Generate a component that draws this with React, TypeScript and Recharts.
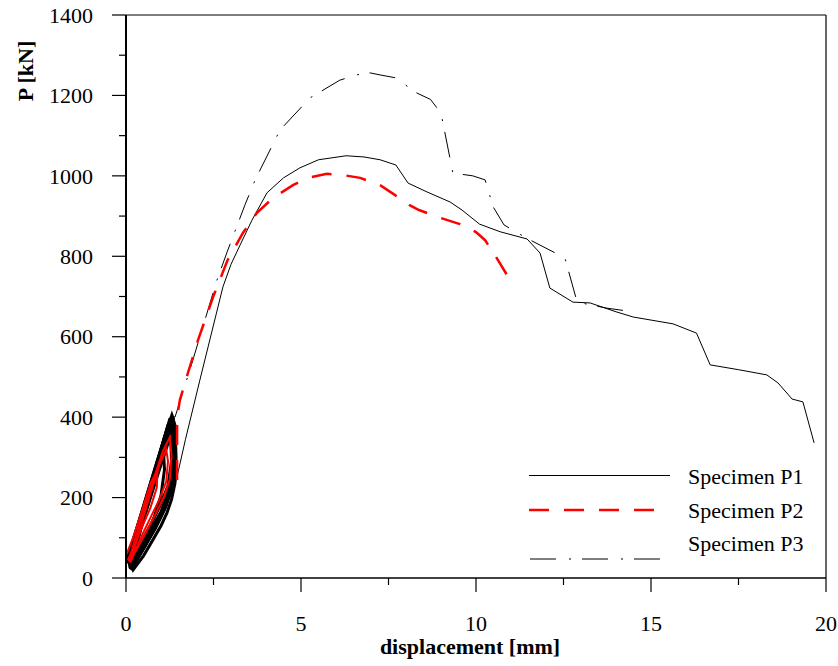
import React from 'react';
import { LineChart, Line, XAxis, YAxis, ReferenceLine } from 'recharts';

type Pt = { x: number; y: number };
const pts = (a: number[][]): Pt[] => a.map(([x, y]) => ({ x, y }));

// tick values
const xTicks = [0, 2.5, 5, 7.5, 10, 12.5, 15, 17.5, 20];
const yTicks = [0, 100, 200, 300, 400, 500, 600, 700, 800, 900, 1000, 1100, 1200, 1300, 1400];

// cyclic loops (black: P1 / P3, red: P2)
const p1CycleA = pts([[0.03, 45], [0.4, 150], [0.8, 265], [1.1, 350], [1.31, 405], [1.4, 380], [1.43, 300], [1.4, 236], [1.3, 195], [1.17, 162], [1.0, 130], [0.77, 95], [0.5, 55], [0.2, 20], [0.03, 45]]);
const p1CycleB = pts([[0.08, 40], [0.4, 138], [0.8, 250], [1.1, 335], [1.3, 390], [1.38, 360], [1.38, 280], [1.3, 225], [1.15, 180], [0.95, 145], [0.7, 110], [0.45, 72], [0.2, 35], [0.08, 40]]);
const p1CycleC = pts([[0.1, 35], [0.45, 140], [0.85, 255], [1.15, 340], [1.28, 370], [1.35, 330], [1.33, 260], [1.2, 210], [1.0, 165], [0.75, 125], [0.5, 88], [0.25, 50], [0.1, 35]]);
const p1CycleD = pts([[0.12, 30], [0.5, 145], [0.9, 255], [1.2, 335], [1.28, 345], [1.3, 290], [1.2, 230], [1.0, 185], [0.75, 140], [0.5, 100], [0.25, 55], [0.12, 30]]);
const p3CycleA = pts([[0.05, 50], [0.35, 135], [0.7, 235], [1.0, 320], [1.25, 395], [1.35, 398], [1.4, 340], [1.4, 255], [1.25, 205], [1.05, 165], [0.8, 120], [0.55, 80], [0.3, 45], [0.05, 50]]);
const p3CycleB = pts([[0.1, 25], [0.35, 110], [0.65, 210], [0.95, 305], [1.2, 380], [1.32, 400], [1.4, 370], [1.4, 290], [1.3, 225], [1.1, 170], [0.85, 125], [0.55, 80], [0.3, 45], [0.15, 25], [0.1, 25]]);
const p3CycleC = pts([[0.12, 22], [0.4, 115], [0.7, 205], [1.0, 295], [1.22, 360], [1.3, 380], [1.36, 340], [1.35, 260], [1.2, 205], [0.95, 150], [0.7, 105], [0.45, 65], [0.25, 35], [0.12, 22]]);
const p3CycleD = pts([[0.1, 30], [0.3, 90], [0.55, 165], [0.8, 240], [1.0, 290], [1.08, 300], [1.1, 270], [1.0, 205], [0.8, 150], [0.55, 100], [0.3, 55], [0.12, 30]]);
const p2CycleA = pts([[0.08, 42], [0.4, 140], [0.75, 235], [1.05, 315], [1.25, 350], [1.3, 305], [1.25, 245], [1.1, 205], [0.85, 160], [0.6, 118], [0.35, 78], [0.15, 48], [0.08, 42]]);
const p2CycleB = pts([[0.12, 38], [0.4, 125], [0.7, 210], [0.95, 280], [1.15, 320], [1.2, 290], [1.15, 240], [0.95, 195], [0.7, 150], [0.45, 105], [0.25, 65], [0.12, 38]]);
const p2CycleC = pts([[0.02, 60], [0.2, 100], [0.45, 165], [0.7, 235], [0.9, 270], [0.88, 225], [0.7, 175], [0.45, 125], [0.25, 80], [0.05, 45]]);

// monotonic envelopes after cycling
const p1Curve = pts([[1.42, 240], [1.5, 268], [1.7, 345], [2.11, 492], [2.4, 594], [2.77, 724], [3.0, 780], [3.26, 828], [3.6, 890], [4.03, 958], [4.5, 995], [4.97, 1020], [5.5, 1040], [6.29, 1050], [6.8, 1047], [7.26, 1040], [7.71, 1027], [8.06, 982], [8.6, 960], [9.26, 935], [9.6, 915], [10.1, 880], [10.69, 861], [11.46, 843], [11.83, 808], [12.11, 721], [12.77, 686], [13.26, 684], [14.0, 662], [14.49, 649], [15.63, 632], [16.3, 609], [16.69, 530], [17.5, 518], [18.31, 505], [18.63, 485], [19.03, 445], [19.34, 438], [19.66, 336]]);
const p2Curve = pts([[1.46, 244], [1.46, 400], [1.54, 443], [1.77, 510], [2.06, 592], [2.49, 699], [2.9, 790], [3.34, 858], [3.74, 908], [4.2, 945], [4.77, 977], [5.2, 995], [5.74, 1005], [6.2, 1002], [6.69, 995], [7.26, 977], [7.69, 952], [8.09, 928], [8.37, 915], [9.0, 895], [9.54, 880], [10.0, 860], [10.26, 840], [10.54, 803], [10.91, 750], [11.0, 742]]);
const p3Curve = pts([[1.4, 400], [1.6, 455], [1.91, 542], [2.6, 741], [2.89, 811], [3.4, 928], [3.69, 990], [4.4, 1114], [5.26, 1194], [6.11, 1238], [6.86, 1258], [7.26, 1251], [7.69, 1244], [8.31, 1206], [8.7, 1190], [9.0, 1156], [9.34, 1007], [9.91, 1000], [10.26, 990], [10.49, 923], [10.8, 878], [11.49, 843], [12.54, 796], [12.89, 686], [13.74, 671], [14.49, 662]]);

const seriesNames = ['Specimen P1', 'Specimen P2', 'Specimen P3'];

const FONT = '"Liberation Serif", "Times New Roman", serif';
const FS = 22;

const YTick = (props: any) => {
  const { x, y, payload } = props;
  const v = payload.value as number;
  const major = v % 200 === 0;
  return (
    <g>
      <line x1={x} x2={x - (major ? 14 : 7)} y1={y} y2={y} stroke="#000" strokeWidth={1.2} />
      {major && (
        <text x={x - 33} y={y} dy="0.35em" textAnchor="end" fontSize={FS} fontFamily={FONT} fill="#000">
          {v}
        </text>
      )}
    </g>
  );
};

const XTick = (props: any) => {
  const { x, y, payload } = props;
  const v = payload.value as number;
  const major = v % 5 === 0;
  return (
    <g>
      <line x1={x} x2={x} y1={y} y2={y + (major ? 14 : 7)} stroke="#000" strokeWidth={1.2} />
      {major && (
        <text x={x} y={y + 45} dy="0.35em" textAnchor="middle" fontSize={FS} fontFamily={FONT} fill="#000">
          {v}
        </text>
      )}
    </g>
  );
};

const LegendBox = () => (
  <svg width={838} height={666} style={{ position: 'absolute', left: 0, top: 0, pointerEvents: 'none' }}>
    <line x1={529} x2={670} y1={475.5} y2={475.5} stroke="#000" strokeWidth={1} />
    <text x={688} y={484} fontSize={FS} fontFamily={FONT} fill="#000">{seriesNames[0]}</text>
    <line x1={529} x2={655} y1={510} y2={510} stroke="#ff0000" strokeWidth={2.5} strokeDasharray="20 15" />
    <text x={688} y={518} fontSize={FS} fontFamily={FONT} fill="#000">{seriesNames[1]}</text>
    <line x1={530} x2={660} y1={559} y2={559} stroke="#000" strokeWidth={1} strokeDasharray="26 13 2 11" />
    <text x={688} y={551} fontSize={FS} fontFamily={FONT} fill="#000">{seriesNames[2]}</text>
  </svg>
);

export default function App() {
  const blackCycles = [p1CycleA, p1CycleB, p1CycleC, p1CycleD, p3CycleA, p3CycleB, p3CycleC, p3CycleD];
  const redCycles = [p2CycleA, p2CycleB, p2CycleC];
  return (
    <div style={{ position: 'absolute', left: 0, top: 0, width: 838, height: 666, background: '#fff' }}>
      <LineChart width={838} height={666} margin={{ top: 15, right: 12, left: 0, bottom: 0 }}>
        <XAxis
          type="number"
          dataKey="x"
          domain={[0, 20]}
          ticks={xTicks}
          interval={0}
          height={88}
          tickSize={0}
          tickMargin={0}
          tick={<XTick />}
          axisLine={{ stroke: '#000', strokeWidth: 1.5 }}
          allowDataOverflow
          label={{
            content: (p: any) => {
              const vb = p.viewBox;
              return (
                <text x={vb.x + vb.width / 2 - 6} y={vb.y + 68} dy="0.35em" textAnchor="middle" fontSize={FS} fontWeight="bold" fontFamily={FONT} fill="#000">
                  displacement [mm]
                </text>
              );
            },
          }}
        />
        <YAxis
          type="number"
          domain={[0, 1400]}
          ticks={yTicks}
          interval={0}
          width={126}
          tickSize={0}
          tickMargin={0}
          tick={<YTick />}
          axisLine={{ stroke: '#000', strokeWidth: 2 }}
          allowDataOverflow
          label={{
            content: (p: any) => {
              const vb = p.viewBox;
              const cx = vb.x + 25;
              const cy = vb.y + 56;
              return (
                <text transform={`translate(${cx},${cy}) rotate(-90)`} dy="0.35em" textAnchor="middle" fontSize={FS} fontWeight="bold" fontFamily={FONT} fill="#000">
                  P [kN]
                </text>
              );
            },
          }}
        />
        <ReferenceLine y={1400} stroke="#000" strokeWidth={1} />
        <ReferenceLine x={20} stroke="#000" strokeWidth={1.2} />
        {blackCycles.map((d, i) => (
          <Line key={'b' + i} data={d} dataKey="y" type="linear" stroke="#000" strokeWidth={3} dot={false} isAnimationActive={false} />
        ))}
        {redCycles.map((d, i) => (
          <Line key={'r' + i} data={d} dataKey="y" type="linear" stroke="#ff0000" strokeWidth={2} dot={false} isAnimationActive={false} />
        ))}
        <Line data={p1Curve} dataKey="y" name={seriesNames[0]} type="linear" stroke="#000" strokeWidth={1} dot={false} isAnimationActive={false} />
        <Line data={p3Curve} dataKey="y" name={seriesNames[2]} type="linear" stroke="#000" strokeWidth={1} strokeDasharray="26 13 2 11" dot={false} isAnimationActive={false} />
        <Line data={p2Curve} dataKey="y" name={seriesNames[1]} type="linear" stroke="#ff0000" strokeWidth={2.5} strokeDasharray="20 15" dot={false} isAnimationActive={false} />
      </LineChart>
      <LegendBox />
    </div>
  );
}
